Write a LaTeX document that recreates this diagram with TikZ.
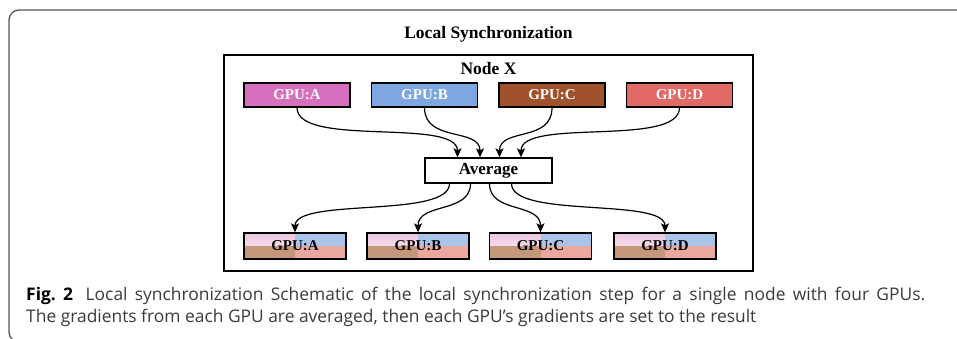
\documentclass[tikz,border=0pt]{standalone}
\usepackage{fontspec}
\setmainfont{Liberation Serif}
\newfontfamily\capfont{Open Sans}
\usepackage{tikz}
\usetikzlibrary{arrows.meta, positioning, calc}
\usepackage{xcolor}

\definecolor{gpuA}{HTML}{D670BE}
\definecolor{gpuB}{HTML}{7EA6E0}
\definecolor{gpuC}{HTML}{A0522D}
\definecolor{gpuD}{HTML}{E16A67}
\definecolor{mixTL}{HTML}{EEC6DE}
\definecolor{mixTR}{HTML}{A9C4E8}
\definecolor{mixBL}{HTML}{C4977A}
\definecolor{mixBR}{HTML}{EBA89F}
\definecolor{framegray}{HTML}{555555}
\definecolor{captext}{HTML}{3A3A3A}

\begin{document}
\begin{tikzpicture}[
    x=1pt, y=-1pt,
    gpu/.style={rectangle, draw, line width=1.3pt, minimum width=106pt, minimum height=24pt, inner sep=0pt,
        text=white, font=\fontsize{15}{17}\selectfont\bfseries},
    gpumix/.style={rectangle, draw, line width=1.3pt, minimum width=102pt, minimum height=26pt, inner sep=0pt,
        font=\fontsize{15}{17}\selectfont\bfseries,
        path picture={
            \shade[top color=mixTL, bottom color=mixTL!25] (path picture bounding box.north west) rectangle (path picture bounding box.center);
            \fill[mixTR] (path picture bounding box.north) rectangle (path picture bounding box.east);
            \fill[mixBL] (path picture bounding box.west) rectangle (path picture bounding box.south);
            \fill[mixBR] (path picture bounding box.center) rectangle (path picture bounding box.south east);
        }},
    avgbox/.style={rectangle, draw, line width=1.3pt, minimum width=127pt, minimum height=25pt, inner sep=0pt,
        font=\fontsize{17}{19}\selectfont\bfseries},
    arrow/.style={-{Stealth[length=9pt, width=8pt, inset=2pt]}, line width=1.2pt},
    title/.style={font=\fontsize{17.5}{20}\selectfont\bfseries},
    caption/.style={font=\capfont\fontsize{17.4}{20}\selectfont, text=captext, inner sep=0pt}
]
    \useasboundingbox (0,0) rectangle (957,339);

    % Figure frame
    \draw[framegray, line width=1.3pt, rounded corners=10pt] (960,10) -- (9,10) -- (9,342) -- (40,342);

    % Titles
    \node[title, anchor=base] (ttl) at (488.5,39) {Local Synchronization};
    \node[draw, line width=1.3pt, minimum width=529pt, minimum height=216pt] (nodex) at (488.5,163) {};
    \node[title, anchor=base] (ndx) at (488.5,75) {Node X};

    % GPUs with own gradients
    \node[gpu, fill=gpuA] (ga) at (297,95) {GPU:A};
    \node[gpu, fill=gpuB] (gb) at (424.5,95) {GPU:B};
    \node[gpu, fill=gpuC] (gc) at (552,95) {GPU:C};
    \node[gpu, fill=gpuD] (gd) at (679.5,95) {GPU:D};

    % Averaging
    \node[avgbox] (avg) at (488.5,170.5) {Average};

    \draw[arrow] (ga.south) .. controls +(0,40) and +(0,-40) .. ($(avg.north)+(-31,0)$);
    \draw[arrow] (gb.south) .. controls +(0,35) and +(0,-30) .. ($(avg.north)+(-8.5,0)$);
    \draw[arrow] (gc.south) .. controls +(0,35) and +(0,-30) .. ($(avg.north)+(11,0)$);
    \draw[arrow] (gd.south) .. controls +(0,40) and +(0,-40) .. ($(avg.north)+(32.5,0)$);

    % GPUs after synchronization
    \node[gpumix] (ha) at (295,246) {GPU:A};
    \node[gpumix] (hb) at (418,246) {GPU:B};
    \node[gpumix] (hc) at (540.5,246) {GPU:C};
    \node[gpumix] (hd) at (665,246) {GPU:D};

    \draw[arrow] ($(avg.south)+(-39,0)$) .. controls +(0,35) and +(0,-35) .. (ha.north);
    \draw[arrow] ($(avg.south)+(-18,0)$) .. controls +(0,30) and +(0,-30) .. (hb.north);
    \draw[arrow] ($(avg.south)+(1,0)$) .. controls +(0,30) and +(0,-30) .. (hc.north);
    \draw[arrow] ($(avg.south)+(23,0)$) .. controls +(0,35) and +(0,-35) .. (hd.north);

    % Caption
    \node[caption, anchor=base west] (cap1) at (26,300) {\makebox[899pt][s]{\textcolor{black}{\bfseries Fig.~2}\hspace{0.3em} Local synchronization Schematic of the local synchronization step for a single node with four GPUs.}};
    \node[caption, anchor=base west] (cap2) at (26,322) {The gradients from each GPU are averaged, then each GPU’s gradients are set to the result};
\end{tikzpicture}
\end{document}
